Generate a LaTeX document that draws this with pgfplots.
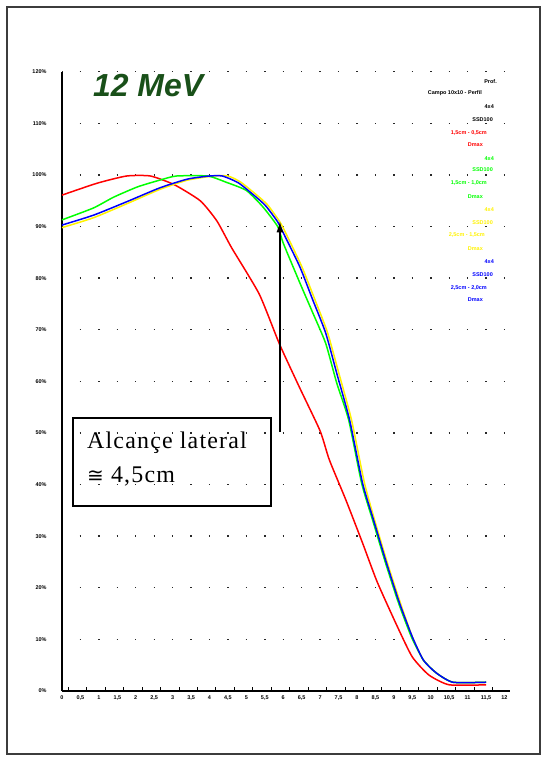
\documentclass[border=0pt]{standalone}
\usepackage{pgfplots}
\pgfplotsset{compat=1.18}
\usetikzlibrary{arrows.meta}
\usepackage{fontspec}
\setmainfont{Liberation Serif}
\setsansfont{Liberation Sans}
\newfontfamily\dvsans{DejaVu Sans}
\definecolor{titlegreen}{RGB}{25,80,25}
\definecolor{framegray}{RGB}{60,60,60}
\definecolor{dotgray}{RGB}{40,40,40}
\newcommand{\tickfont}{\fontsize{5.5}{6}\selectfont\sffamily\bfseries}
\newcommand{\legfont}{\fontsize{5.5}{6}\selectfont\sffamily\bfseries}

\pgfplotstableread{
x y
0 96.1
1.9 98.4
3.5 99.8
4.8 99.8
6.1 98.1
7.5 95.0
8.4 91.1
9.2 85.9
10.7 76.9
11.8 67.2
12.9 58.7
14.0 50.4
14.5 44.8
15.4 37.0
16.3 28.7
17.1 21.1
18.2 12.4
19.0 6.6
19.9 3.1
21.0 1.2
23.0 1.2
}\redtab

\pgfplotstableread{
x y
0 90.3
1.7 92.2
3.5 94.8
5.3 97.5
6.8 99.2
8.0 99.8
8.7 99.8
9.6 98.4
10.7 95.2
11.1 93.8
11.7 90.9
12.0 88.8
12.9 82.2
13.6 75.8
14.3 69.4
14.9 61.6
15.6 52.5
16.3 40.3
16.9 33.1
17.6 24.8
18.3 17.1
19.0 10.5
19.6 6.0
20.3 3.5
21.2 1.7
23.0 1.7
}\bluetab

\pgfplotstableread{
x y
0 91.3
1.7 93.6
2.8 95.7
4.1 97.7
5.3 99.0
6.2 99.8
7.9 99.8
8.9 98.6
10.0 97.0
10.9 93.8
11.7 90.0
12.0 86.8
12.9 79.1
13.6 73.3
14.3 67.4
14.9 59.7
15.55 52.5
16.25 40.3
16.85 33.1
17.55 24.8
18.25 17.1
18.95 10.5
19.6 6.0
20.3 3.5
21.2 1.7
23.0 1.7
}\greentab

\pgfplotstableread{
x y
0 89.8
1.7 91.7
3.5 94.4
5.3 97.2
6.8 99.0
8.2 99.8
9.0 99.8
9.7 98.6
10.8 95.4
11.2 94.0
11.8 91.0
12.1 89.0
13.0 82.3
13.7 76.0
14.4 69.5
15.0 61.8
15.7 52.6
16.4 40.4
16.95 33.2
17.65 24.8
18.35 17.1
19.0 10.5
19.6 6.0
20.3 3.5
21.2 1.7
23.0 1.7
}\yellowtab

\begin{document}
\begin{tikzpicture}[x=1bp,y=1bp]
\useasboundingbox (0,0) rectangle (547,762);
\draw[framegray, line width=1.2bp] (7,755) rectangle (540,8);
\begin{axis}[
  at={(62bp,71bp)}, anchor=south west,
  scale only axis, width=448bp, height=619.2bp,
  xmin=0, xmax=24.3, ymin=0, ymax=120,
  axis lines=left,
  axis line style={-, line width=1.4bp, black},
  tick align=inside,
  major tick length=0pt,
  minor tick length=3.5bp,
  tick style={black, line width=0.9bp},
  xtick={0,1,...,24},
  xticklabels={0,{0,5},1,{1,5},2,{2,5},3,{3,5},4,{4,5},5,{5,5},6,{6,5},7,{7,5},8,{8,5},9,{9,5},10,{10,5},11,{11,5},12},
  minor xtick={0.35,1.35,...,23.35},
  ytick={0,10,...,120},
  yticklabels={0\%,10\%,20\%,30\%,40\%,50\%,60\%,70\%,80\%,90\%,100\%,110\%,120\%},
  xticklabel style={font=\tickfont, yshift=-1bp},
  yticklabel style={font=\tickfont, xshift=-12bp},
  ymajorgrids,
  major grid style={dotgray, line width=1.4bp, dash pattern=on 1.4bp off 17.04bp, dash phase=0.7bp},
  clip=false,
]
\addplot[red, line width=1.5bp, smooth, tension=0.35] table[x=x,y=y] {\redtab};
\addplot[yellow, line width=1.5bp, smooth, tension=0.35] table[x=x,y=y] {\yellowtab};
\addplot[green, line width=1.5bp, smooth, tension=0.35] table[x=x,y=y] {\greentab};
\addplot[blue, line width=1.5bp, smooth, tension=0.35] table[x=x,y=y] {\bluetab};
\draw[black, line width=1.3bp, -{Latex[length=11bp,width=7bp]}] (axis cs:11.82,50.2) -- (axis cs:11.82,91.0);
\end{axis}
% title
\node[anchor=base west, inner sep=0, font=\fontsize{32}{32}\selectfont\sffamily\bfseries\itshape, text=titlegreen] at (93,665) {12 MeV};
% annotation box
\draw[black, line width=1.3bp] (73,344) rectangle (271,256);
\node[anchor=base west, inner sep=0, font=\fontsize{24}{24}\selectfont\addfontfeatures{LetterSpace=5}] at (87,313) {Alcançe lateral};
\node[anchor=base west, inner sep=0, font=\fontsize{24}{24}\selectfont\addfontfeatures{LetterSpace=5}] at (87,279) {{\dvsans\fontsize{20}{20}\selectfont ≅} 4,5cm};
% legend block
\begin{scope}[every node/.style={anchor=east, inner sep=0, font=\legfont}]
\node[text=black] at (497,680) {Prof.};
\node[text=black] at (482,669) {Campo 10x10 - Perfil};
\node[text=black] at (494,655) {4x4};
\node[text=black] at (493,642) {SSD100};
\node[text=red] at (487,629) {1,5cm - 0,5cm};
\node[text=red] at (483,617) {Dmax};
\node[text=green] at (494,603) {4x4};
\node[text=green] at (493,592) {SSD100};
\node[text=green] at (487,579) {1,5cm - 1,0cm};
\node[text=green] at (483,565) {Dmax};
\node[text=yellow] at (494,552) {4x4};
\node[text=yellow] at (493,539) {SSD100};
\node[text=yellow] at (485,527) {2,5cm - 1,5cm};
\node[text=yellow] at (483,513) {Dmax};
\node[text=blue] at (494,500) {4x4};
\node[text=blue] at (493,487) {SSD100};
\node[text=blue] at (487,474) {2,5cm - 2,0cm};
\node[text=blue] at (483,462) {Dmax};
\end{scope}
\end{tikzpicture}
\end{document}
